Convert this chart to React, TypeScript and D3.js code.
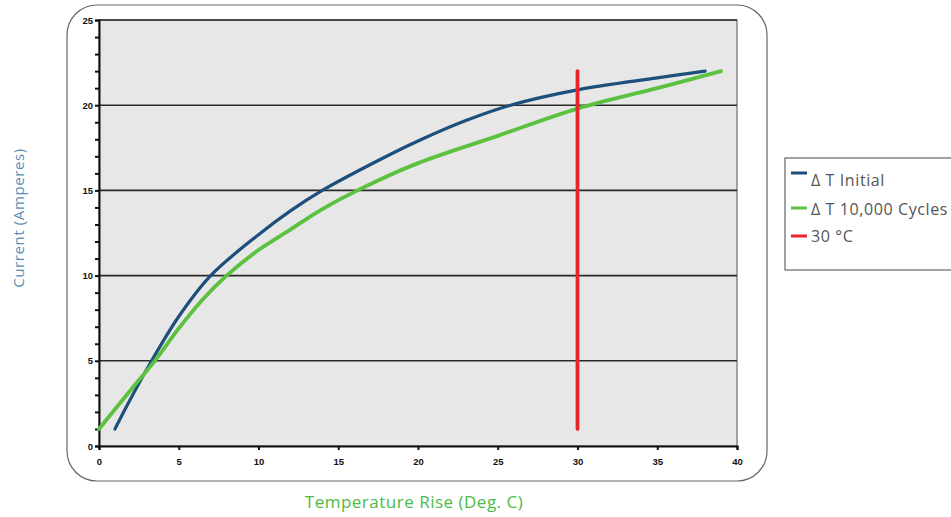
import React, { useEffect, useRef } from 'react';
import * as d3 from 'd3';

const initialX = [1, 2, 3.3, 5, 7, 10, 12, 14, 17.6, 20, 23, 25.8, 30, 35, 38];
const initialY = [1, 2.8, 5, 7.6, 10, 12.4, 13.8, 15, 16.8, 17.9, 19.1, 20, 20.9, 21.6, 22.0];
const cyclesX = [0, 2, 3.5, 5, 6.5, 8, 10, 12, 14, 16.2, 20, 25, 30, 35, 39];
const cyclesY = [1, 3.3, 5, 6.9, 8.6, 10, 11.5, 12.7, 13.9, 15, 16.6, 18.2, 19.8, 21.0, 22.0];
const markerX = [30, 30];
const markerY = [1, 22];
const xTicks = [0, 5, 10, 15, 20, 25, 30, 35, 40];
const yTicks = [0, 5, 10, 15, 20, 25];
const legendLabels = ['Δ T Initial', 'Δ T 10,000 Cycles', '30 °C'];
const colors = ['#1d4f7c', '#5cc13e', '#e8262a'];

const W = 951;
const H = 517;
const plot = { left: 99, right: 737, top: 20, bottom: 446 };

const App: React.FC = () => {
  const svgRef = useRef<SVGSVGElement>(null);

  useEffect(() => {
    if (!svgRef.current) return;
    const svg = d3.select(svgRef.current);
    svg.selectAll('*').remove();

    const x = d3.scaleLinear().domain([0, 40]).range([plot.left, plot.right]);
    const y = d3.scaleLinear().domain([0, 25]).range([plot.bottom, plot.top]);

    // outer frame
    svg.append('rect')
      .attr('x', 67).attr('y', 5).attr('width', 700).attr('height', 476)
      .attr('rx', 30).attr('ry', 30)
      .attr('fill', '#fff').attr('stroke', '#666').attr('stroke-width', 1.2);

    // plot background
    svg.append('rect')
      .attr('x', plot.left).attr('y', plot.top)
      .attr('width', plot.right - plot.left).attr('height', plot.bottom - plot.top)
      .attr('fill', '#e7e7e7').attr('stroke', '#555').attr('stroke-width', 1);

    // grid lines
    svg.append('g').selectAll('line')
      .data(yTicks.slice(1))
      .enter().append('line')
      .attr('x1', plot.left).attr('x2', plot.right)
      .attr('y1', d => y(d)).attr('y2', d => y(d))
      .attr('stroke', '#2a2a2a').attr('stroke-width', 1.6);

    const tickFont = (sel: any) => sel
      .style('font-family', '"Liberation Sans", Arial, sans-serif')
      .style('font-weight', 'bold').style('font-size', '9.5px').attr('fill', '#111');

    // y axis
    const yAxis = d3.axisLeft(y).tickValues(d3.range(0, 26, 1)).tickSize(4)
      .tickFormat(d => (+d % 5 === 0 ? String(d) : ''));
    const gy = svg.append('g').attr('transform', `translate(${plot.left},0)`).call(yAxis);
    gy.select('.domain').attr('stroke', '#111').attr('stroke-width', 2);
    gy.selectAll('.tick line').attr('stroke', '#111').attr('stroke-width', 2);
    gy.selectAll('.tick text').attr('x', -6).call(tickFont);

    // x axis
    const xAxis = d3.axisBottom(x).tickValues(xTicks).tickSize(4);
    const gx = svg.append('g').attr('transform', `translate(0,${plot.bottom})`).call(xAxis);
    gx.select('.domain').attr('stroke', '#111').attr('stroke-width', 2);
    gx.selectAll('.tick line').attr('stroke', '#111').attr('stroke-width', 2);
    gx.selectAll('.tick text').attr('y', 12).call(tickFont);

    const line = d3.line<[number, number]>()
      .x(d => x(d[0])).y(d => y(d[1]))
      .curve(d3.curveCatmullRom.alpha(0.5));

    const initial = initialX.map((v, i) => [v, initialY[i]] as [number, number]);
    const cycles = cyclesX.map((v, i) => [v, cyclesY[i]] as [number, number]);

    svg.append('path').datum(initial)
      .attr('d', line).attr('fill', 'none')
      .attr('stroke', colors[0]).attr('stroke-width', 3.2).attr('stroke-linecap', 'round');
    svg.append('path').datum(cycles)
      .attr('d', line).attr('fill', 'none')
      .attr('stroke', colors[1]).attr('stroke-width', 3.8).attr('stroke-linecap', 'round');

    svg.append('line')
      .attr('x1', x(markerX[0])).attr('x2', x(markerX[1]))
      .attr('y1', y(markerY[0])).attr('y2', y(markerY[1]))
      .attr('stroke', colors[2]).attr('stroke-width', 3.8).attr('stroke-linecap', 'round');

    // axis titles
    svg.append('text')
      .attr('transform', `translate(24,218) rotate(-90)`)
      .attr('text-anchor', 'middle')
      .style('font-family', '"Open Sans", sans-serif').style('font-size', '15px')
      .style('letter-spacing', '0.6px')
      .attr('fill', '#5a8db5')
      .text('Current (Amperes)');

    svg.append('text')
      .attr('x', 414).attr('y', 508)
      .attr('text-anchor', 'middle')
      .style('font-family', '"Open Sans", sans-serif').style('font-size', '17px')
      .style('font-weight', 500).style('letter-spacing', '0.5px')
      .attr('fill', '#4dbb45')
      .text('Temperature Rise (Deg. C)');

    // legend
    const lg = svg.append('g');
    lg.append('rect')
      .attr('x', 785).attr('y', 158).attr('width', 180).attr('height', 112)
      .attr('fill', '#fff').attr('stroke', '#444').attr('stroke-width', 1);
    const lineY = [173, 208, 236];
    const textY = [186, 215, 242];
    legendLabels.forEach((lbl, i) => {
      lg.append('line')
        .attr('x1', 791).attr('x2', 807).attr('y1', lineY[i]).attr('y2', lineY[i])
        .attr('stroke', colors[i]).attr('stroke-width', 3);
      lg.append('text')
        .attr('x', 811).attr('y', textY[i])
        .style('font-family', '"Open Sans", sans-serif').style('font-size', '16px')
        .style('letter-spacing', '0.6px')
        .attr('fill', '#555')
        .text(lbl);
    });
  }, []);

  return (
    <svg ref={svgRef} width={W} height={H}
      style={{ position: 'absolute', left: 0, top: 0, background: '#fff' }} />
  );
};

export default App;
